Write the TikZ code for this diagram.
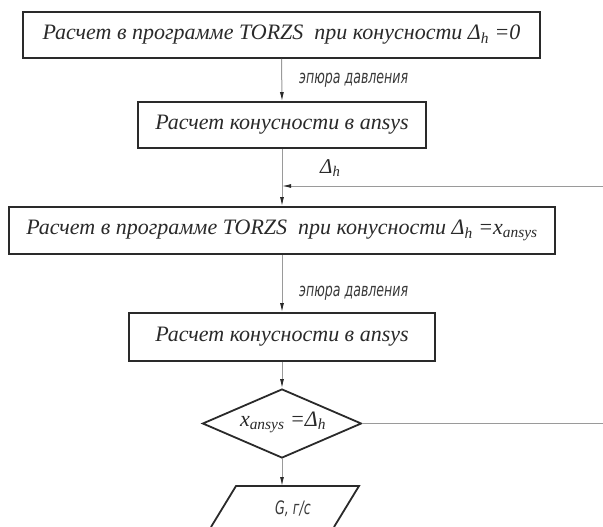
\documentclass[tikz,border=0pt]{standalone}
\usepackage{fontspec}
\setmainfont{Liberation Serif}
\newfontfamily\gostfont[FakeStretch=0.68]{DejaVu Sans}
\usetikzlibrary{arrows.meta,shapes.geometric}
\newcommand\Dlt{\textit{Δ}\textsubscript{\textit{h}}}
\newcommand\Xan{\textit{x}\textsubscript{\textit{ansys}}}
\definecolor{boxcol}{HTML}{2A2A2A}
\definecolor{linecol}{HTML}{9A9A9A}
\definecolor{lblcol}{HTML}{3A3A3A}
\tikzset{
  stepbox/.style={draw=boxcol, line width=1.8pt, minimum height=46pt, inner sep=0pt, fill=white,
    font=\fontsize{22}{24}\selectfont\itshape, text=boxcol},
  decbox/.style={diamond, draw=boxcol, line width=1.8pt, minimum width=159pt, minimum height=69pt,
    inner sep=0pt},
  dectext/.style={inner sep=0pt, font=\fontsize{22}{24}\selectfont\itshape, text=boxcol},
  conn/.style={draw=linecol, line width=1pt},
  arr/.style={conn, -{Latex[length=9pt,width=4pt,color=boxcol]}},
  gostlbl/.style={font=\gostfont\fontsize{18.5}{20}\selectfont\itshape, text=lblcol, inner sep=0pt},
  serlbl/.style={font=\fontsize{21}{22}\selectfont\itshape, text=boxcol, inner sep=0pt}
}
\begin{document}
\begin{tikzpicture}[x=1pt,y=-1pt]
\useasboundingbox (0,0) rectangle (603,527);
\node[stepbox, minimum width=517pt] (b1) at (281.5,35) {Расчет в программе TORZS \ при конусности \Dlt\ =0};
\node[stepbox, minimum width=288pt] (b2) at (282,125) {Расчет конусности в ansys};
\node[stepbox, minimum width=546pt, minimum height=47pt] (b3) at (282,230.5) {Расчет в программе TORZS \ при конусности \Dlt\ =\Xan};
\node[stepbox, minimum width=306pt, minimum height=48pt] (b4) at (282,337) {Расчет конусности в ansys};
\node[decbox] (d) at (282,423.5) {};
\node[dectext] (dt) at (283,422) {\Xan\ =\Dlt};
\node[gostlbl] (g) at (293,509) {G, г/с};
\coordinate (ptl) at (236,486);
\coordinate (ptr) at (359,486);
\coordinate (pbl) at (211,527);
\coordinate (pbr) at (334,527);
\draw[draw=boxcol, line width=1.8pt] (pbl) -- (ptl) -- (ptr) -- (pbr);
\coordinate (j) at (282,186);
\coordinate (r1) at (603,186);
\coordinate (r2) at (603,423.5);
\draw[arr] (b1.south) -- (b2.north);
\draw[arr] (b2.south) -- (b3.north);
\draw[arr] (r1) -- (j);
\draw[arr] (b3.south) -- (b4.north);
\draw[arr] (b4.south) -- (d.north);
\draw[arr] (d.south) -- (ptl -| d.south);
\draw[conn] (d.east) -- (r2);
\node[gostlbl, anchor=west] (l1) at (299,80) {эпюра давления};
\node[gostlbl, anchor=west] (l2) at (299,293) {эпюра давления};
\node[serlbl, anchor=west] (l3) at (320,168) {\Dlt};
\end{tikzpicture}
\end{document}
